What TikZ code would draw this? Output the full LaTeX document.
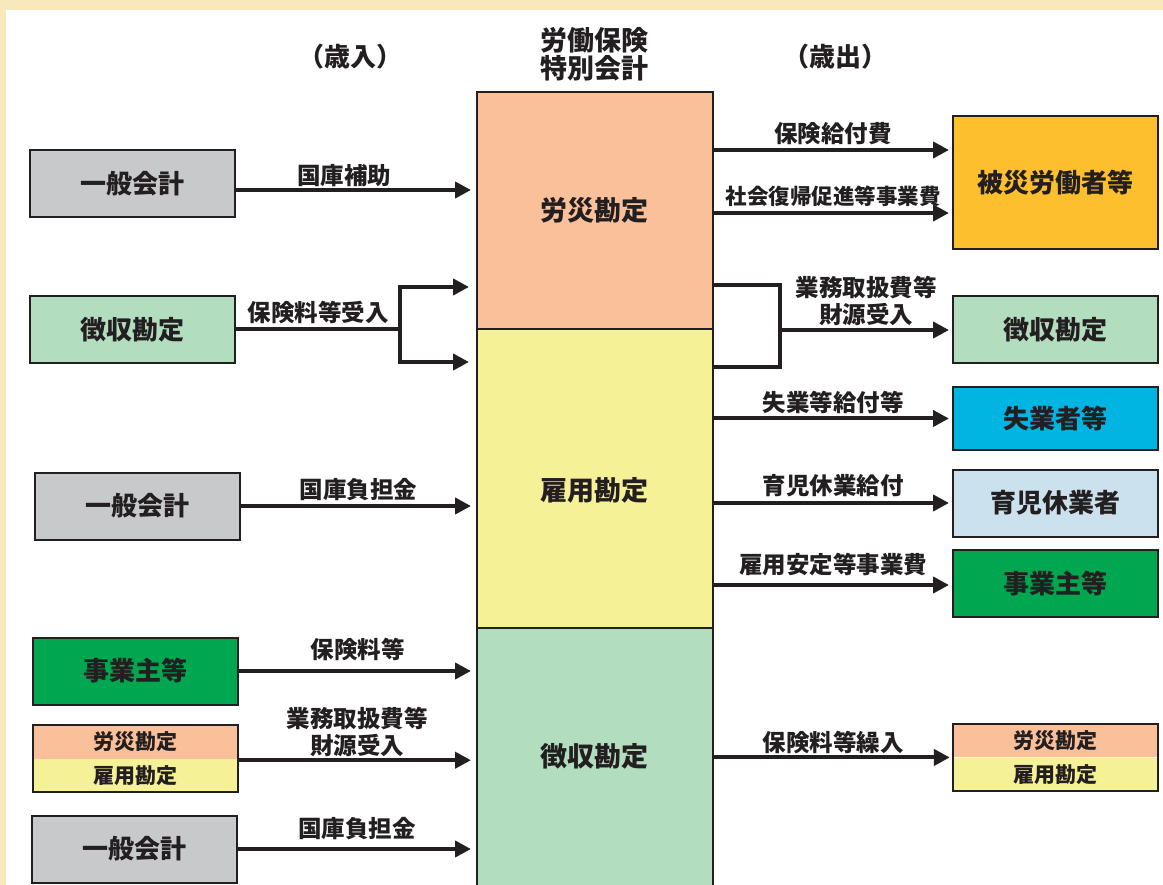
\documentclass[tikz,border=0pt]{standalone}
\usepackage{fontspec}
\setmainfont{Noto Sans CJK JP}
\usetikzlibrary{arrows.meta}

\definecolor{ink}{HTML}{231F20}
\definecolor{frame}{HTML}{FAE8BD}
\definecolor{rosaic}{HTML}{FAC09A}
\definecolor{koyoc}{HTML}{F5F197}
\definecolor{choshuc}{HTML}{B2DDBF}
\definecolor{ippanc}{HTML}{C8C9CB}
\definecolor{jigyoc}{HTML}{00A650}
\definecolor{hisaic}{HTML}{FDBF2D}
\definecolor{shitsuc}{HTML}{00B5E2}
\definecolor{ikujic}{HTML}{CCE1EE}

\tikzset{
  box/.style={draw=ink, line width=2pt, minimum width=205, minimum height=67,
    inner sep=0pt, text=ink, font=\fontsize{26}{28}\selectfont\bfseries},
  half/.style={minimum width=205, minimum height=33.5, inner sep=0pt, text=ink,
    font=\fontsize{21}{22}\selectfont\bfseries},
  col/.style={draw=ink, line width=2pt, minimum width=236, inner sep=0pt},
  coltext/.style={text=ink, font=\fontsize{27}{28}\selectfont\bfseries},
  lbl/.style={text=ink, align=center, inner sep=1pt,
    font=\fontsize{23.5}{27}\selectfont\bfseries},
  line/.style={draw=ink, line width=4pt},
  flow/.style={line, -{Triangle[length=16pt,width=16pt]}}
}

\begin{document}
\begin{tikzpicture}[x=1pt,y=-1pt]
  \useasboundingbox (0,0) rectangle (1163,885);
  \fill[frame] (0,0) rectangle (1163,885);
  \fill[white] (6,10) rectangle (1163,885);

  % headers
  \node[lbl, font=\fontsize{27}{28}\selectfont\bfseries] (head) at (594,54) {労働保険\\特別会計};
  \node[lbl, font=\fontsize{26}{28}\selectfont\bfseries] (sainyu) at (350,57) {（歳入）};
  \node[lbl, font=\fontsize{26}{28}\selectfont\bfseries] (saishutsu) at (835,57) {（歳出）};

  % special account column
  \node[col, fill=rosaic, minimum height=237] (rosai) at (595,210.5) {};
  \node[col, fill=koyoc, minimum height=299] (koyo) at (595,478.5) {};
  \node[col, fill=choshuc, minimum height=270] (choshu) at (595,763) {};
  \node[coltext] at (594,210) {労災勘定};
  \node[coltext] at (594,490) {雇用勘定};
  \node[coltext] at (594,756) {徴収勘定};

  % revenue side
  \node[box, fill=ippanc] (ippanA) at (132.5,183.5) {一般会計};
  \node[box, fill=choshuc] (choshuL) at (132.5,329.5) {徴収勘定};
  \node[box, fill=ippanc] (ippanB) at (137.5,506) {一般会計};
  \node[box, fill=jigyoc] (jigyoL) at (135.5,671) {事業主等};
  \node[half, fill=rosaic] (rosaiL) at (135.5,741.75) {労災勘定};
  \node[half, fill=koyoc] (koyoL) at (135.5,775.25) {雇用勘定};
  \draw[ink, line width=2pt] (rosaiL.north west) rectangle (koyoL.south east);
  \node[box, fill=ippanc] (ippanC) at (134.5,849) {一般会計};

  \draw[flow, shorten >=5pt] ([yshift=-6.5pt]ippanA.east) -- ([yshift=-6.5pt]ippanA.east -| rosai.west)
    node[lbl, pos=0.45, above=0pt] {国庫補助};
  \coordinate (brL1) at (400,287);
  \coordinate (brL2) at (400,362);
  \draw[line] (choshuL.east) -- (brL1 |- choshuL.east)
    node[lbl, midway, above=3pt] {保険料等受入};
  \draw[flow, shorten >=7pt] (brL1 |- choshuL.east) |- (brL1 -| rosai.west);
  \draw[flow, shorten >=7pt] (brL2 |- choshuL.east) |- (brL2 -| koyo.west);
  \draw[flow, shorten >=5pt] (ippanB.east) -- (ippanB.east -| koyo.west)
    node[lbl, midway, above=2pt] {国庫負担金};
  \draw[flow, shorten >=5pt] (jigyoL.east) -- (jigyoL.east -| choshu.west)
    node[lbl, midway, above=7pt] {保険料等};
  \draw[flow, shorten >=5pt] ([yshift=-1.5pt]rosaiL.south east) -- ([yshift=-1.5pt]rosaiL.south east -| choshu.west)
    node[lbl, midway, above=0pt] {業務取扱費等\\財源受入};
  \draw[flow, shorten >=5pt] (ippanC.east) -- (ippanC.east -| choshu.west)
    node[lbl, midway, above=6pt] {国庫負担金};

  % expenditure side
  \node[box, fill=hisaic, minimum height=133] (hisai) at (1055.5,182.5) {被災労働者等};
  \node[box, fill=choshuc] (choshuR) at (1055.5,330) {徴収勘定};
  \node[box, fill=shitsuc, minimum height=63] (shitsu) at (1055.5,418.5) {失業者等};
  \node[box, fill=ikujic] (ikuji) at (1055.5,503) {育児休業者};
  \node[box, fill=jigyoc] (jigyoR) at (1055.5,583.5) {事業主等};
  \node[half, fill=rosaic] (rosaiR) at (1055.5,740.5) {労災勘定};
  \node[half, fill=koyoc] (koyoR) at (1055.5,774.5) {雇用勘定};
  \draw[ink, line width=2pt] (rosaiR.north west) rectangle (koyoR.south east);

  \draw[flow, shorten >=3pt] ([yshift=32.5pt]hisai.west -| rosai.east) -- ([yshift=32.5pt]hisai.west)
    node[lbl, midway, above=2pt] {保険給付費};
  \draw[flow, shorten >=3pt] ([yshift=-30.5pt]hisai.west -| rosai.east) -- ([yshift=-30.5pt]hisai.west)
    node[lbl, midway, above=3pt, font=\fontsize{21.5}{27}\selectfont\bfseries] {社会復帰促進等事業費};
  \coordinate (brR1) at (780,285);
  \coordinate (brR2) at (780,367);
  \draw[line] (brR1 -| rosai.east) -- (brR1) -- (brR2) -- (brR2 -| koyo.east);
  \draw[flow, shorten >=3pt] (brR1 |- choshuR.west) -- (choshuR.west)
    node[lbl, midway, above=1pt] {業務取扱費等\\財源受入};
  \draw[flow, shorten >=3pt] (shitsu.west -| koyo.east) -- (shitsu.west)
    node[lbl, midway, above=2pt] {失業等給付等};
  \draw[flow, shorten >=3pt] (ikuji.west -| koyo.east) -- (ikuji.west)
    node[lbl, midway, above=3pt] {育児休業給付};
  \draw[flow, shorten >=3pt] ([yshift=-1.5pt]jigyoR.west -| koyo.east) -- ([yshift=-1.5pt]jigyoR.west)
    node[lbl, midway, above=6pt] {雇用安定等事業費};
  \draw[flow, shorten >=3pt] (rosaiR.south west -| choshu.east) -- (rosaiR.south west)
    node[lbl, midway, above=1pt] {保険料等繰入};
\end{tikzpicture}
\end{document}
